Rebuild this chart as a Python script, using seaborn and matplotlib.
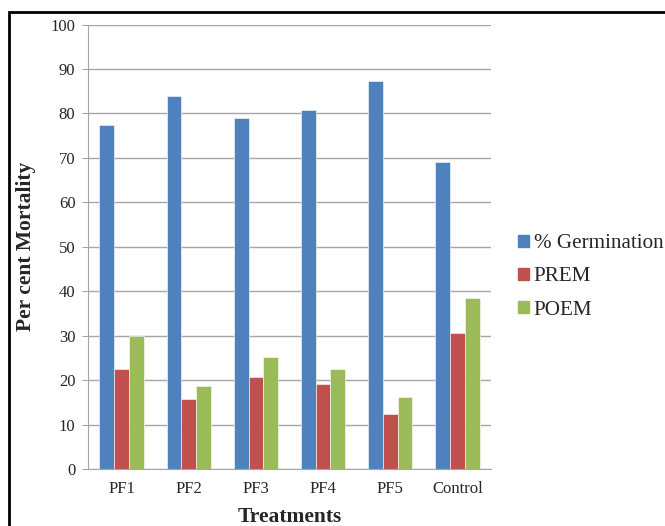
import numpy as np
import pandas as pd
import matplotlib.pyplot as plt
import matplotlib.patches as mpatches
import seaborn as sns

# 데이터
treatments  = ["PF1", "PF2", "PF3", "PF4", "PF5", "Control"]
germination = [77.3, 84.0, 79.0, 80.7, 87.3, 69.0]
prem        = [22.4, 15.7, 20.7, 19.1, 12.4, 30.7]
poem        = [29.9, 18.7, 25.1, 22.6, 16.1, 38.5]
series      = ["% Germination", "PREM", "POEM"]
colors      = ["#4F81BD", "#C0504D", "#9BBB59"]

df = pd.DataFrame({
    "Treatment": treatments * 3,
    "Series": [s for s in series for _ in treatments],
    "Value": germination + prem + poem,
})

sns.set_style("white")
plt.rcParams['font.family'] = ['Liberation Serif', 'DejaVu Serif']

fig = plt.figure(figsize=(6.65, 5.26), dpi=100)
ax = fig.add_axes([0.1323, 0.1084, 0.6060, 0.8450])

sns.barplot(data=df, x="Treatment", y="Value", hue="Series",
            palette=colors, width=0.66, saturation=1, ax=ax,
            edgecolor="white", linewidth=0.4, legend=False)

ax.set_ylim(0, 100)
ax.set_xlim(-0.5, 5.5)
ax.set_yticks(range(0, 101, 10))
ax.yaxis.grid(True, color="#A6A6A6", linewidth=1)
ax.set_axisbelow(True)

for side in ["top", "right"]:
    ax.spines[side].set_visible(False)
ax.spines["left"].set_color("#A6A6A6")
ax.spines["bottom"].set_color("#A6A6A6")

ax.tick_params(axis="y", length=4, color="#A6A6A6", labelsize=12, pad=5, left=True)
ax.tick_params(axis="x", length=0, labelsize=12, pad=9)

ax.set_xlabel("Treatments", fontsize=15.5, fontweight="bold", labelpad=7)
ax.set_ylabel("Per cent Mortality", fontsize=15.5, fontweight="bold")
ax.yaxis.set_label_coords(-0.129, 0.5)

handles = [mpatches.Patch(color=c, label=s) for s, c in zip(series, colors)]
fig.legend(handles=handles, loc="center left", bbox_to_anchor=(0.779, 0.4734),
           frameon=False, fontsize=15.2, handlelength=0.5, handleheight=0.5,
           handletextpad=0.25, labelspacing=0.68, borderpad=0, borderaxespad=0)

# 바깥 테두리
fig.patches.append(mpatches.Rectangle((0.0135, -0.05), 1.05, 1.0272, transform=fig.transFigure,
                                      fill=False, edgecolor="black", linewidth=2))

plt.savefig("out.png", dpi=100)
